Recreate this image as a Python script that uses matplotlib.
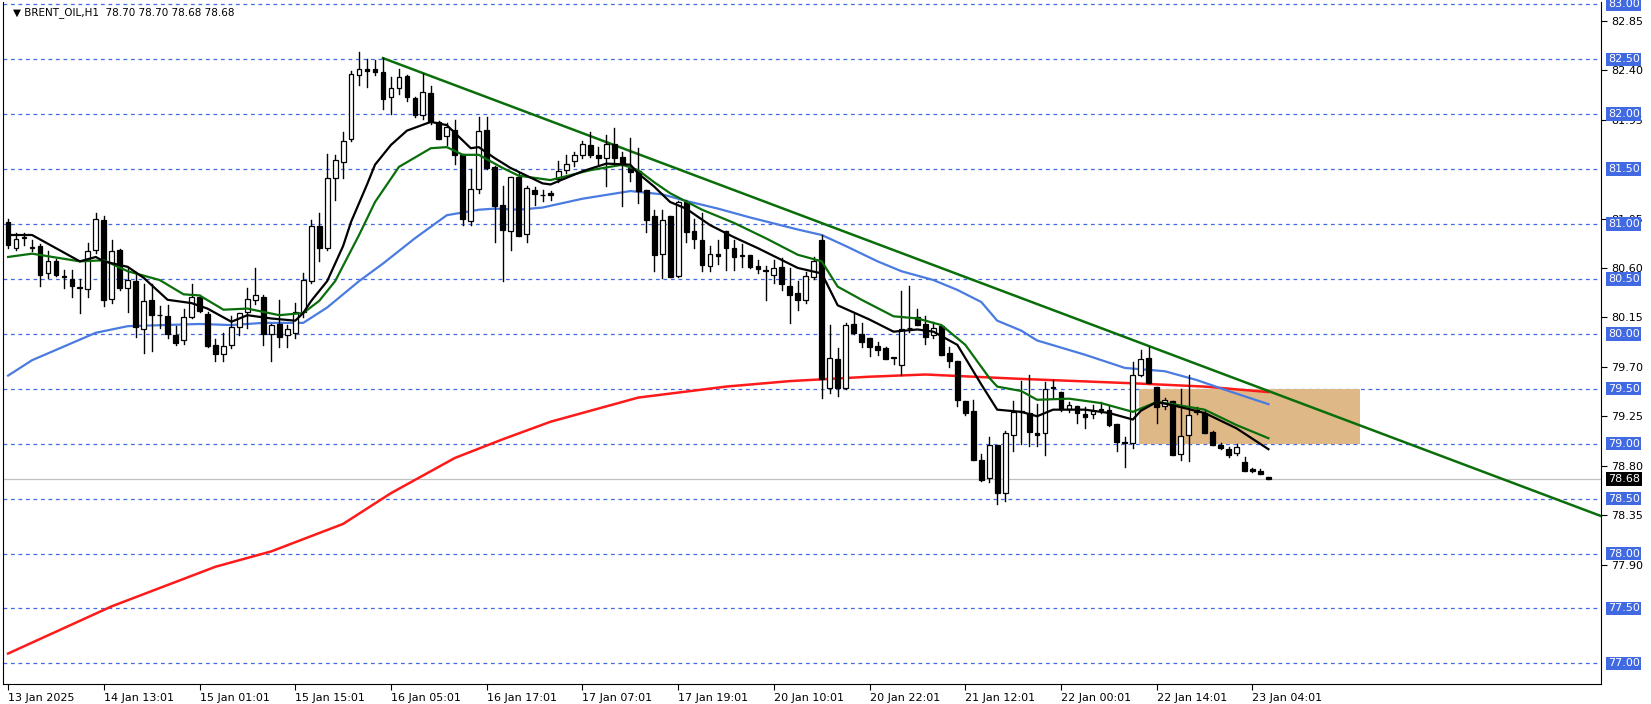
import matplotlib
matplotlib.use("Agg")
from matplotlib import pyplot as plt
from matplotlib.patches import Rectangle
import numpy as np

# hourly candles, index 0 = 13 Jan 2025
opens = [81.02, 80.78, 80.88, 80.79, 80.80, 80.55, 80.66, 80.52, 80.50, 80.42,
         80.41, 80.76, 81.04, 80.32, 80.76, 80.42, 80.48, 80.04, 80.31, 80.17,
         80.16, 79.99, 79.94, 80.15, 80.34, 80.18, 79.90, 79.82, 79.90, 80.06,
         80.20, 80.31, 80.34, 80.00, 80.09, 79.99, 80.01, 80.20, 80.48, 80.98,
         80.78, 81.42, 81.56, 81.77, 82.36, 82.41, 82.41, 82.38, 82.16, 82.24,
         82.35, 82.15, 81.99, 82.19, 81.93, 81.80, 81.86, 81.63, 81.03, 81.32,
         81.86, 81.52, 81.17, 80.94, 81.43, 80.91, 81.31, 81.26, 81.28, 81.41,
         81.49, 81.57, 81.63, 81.72, 81.63, 81.60, 81.73, 81.61, 81.51, 81.48,
         81.31, 81.07, 80.73, 81.07, 80.53, 81.20, 80.94, 80.85, 80.62, 80.73,
         80.94, 80.78, 80.71, 80.72, 80.62, 80.58, 80.54, 80.61, 80.44, 80.37,
         80.31, 80.52, 80.85, 79.51, 79.77, 79.51, 80.09, 80.00, 79.96, 79.89,
         79.87, 79.78, 79.72, 80.05, 80.15, 80.09, 79.99, 80.07, 79.83, 79.75,
         79.39, 79.30, 78.85, 78.69, 78.99, 78.55, 79.08, 79.29, 79.28, 79.10,
         79.10, 79.51, 79.47, 79.32, 79.34, 79.27, 79.27, 79.31, 79.31, 79.18,
         79.01, 79.01, 79.63, 79.78, 79.52, 79.34, 79.39, 78.91, 79.08, 79.29,
         79.28, 79.11, 78.99, 78.95, 78.92, 78.83, 78.77, 78.75, 78.70]
highs = [81.05, 80.92, 80.92, 80.85, 80.82, 80.75, 80.68, 80.58, 80.58, 80.50,
         80.83, 81.10, 81.07, 80.85, 80.77, 80.60, 80.56, 80.45, 80.45, 80.25,
         80.26, 80.07, 80.23, 80.45, 80.35, 80.20, 79.95, 80.01, 80.16, 80.19,
         80.42, 80.60, 80.35, 80.09, 80.31, 80.08, 80.28, 80.55, 81.04, 81.10,
         81.64, 81.63, 81.84, 82.39, 82.57, 82.50, 82.49, 82.51, 82.34, 82.41,
         82.36, 82.16, 82.37, 82.26, 81.94, 81.92, 81.95, 81.64, 81.50, 81.97,
         81.97, 81.53, 81.35, 81.43, 81.47, 81.35, 81.34, 81.31, 81.30, 81.57,
         81.63, 81.66, 81.76, 81.84, 81.70, 81.81, 81.87, 81.66, 81.78, 81.69,
         81.31, 81.13, 81.13, 81.07, 81.21, 81.22, 81.05, 81.10, 80.80, 80.85,
         80.94, 80.85, 80.82, 80.72, 80.67, 80.62, 80.67, 80.69, 80.60, 80.48,
         80.56, 80.70, 80.90, 80.08, 79.87, 80.10, 80.19, 80.10, 79.96, 79.93,
         79.88, 79.78, 80.39, 80.44, 80.23, 80.16, 80.11, 80.07, 79.88, 79.75,
         79.39, 79.40, 78.91, 79.06, 78.99, 79.12, 79.39, 79.57, 79.63, 79.36,
         79.56, 79.58, 79.47, 79.38, 79.34, 79.33, 79.35, 79.38, 79.34, 79.18,
         79.06, 79.74, 79.85, 79.88, 79.52, 79.42, 79.39, 79.50, 79.63, 79.33,
         79.31, 79.12, 79.01, 78.97, 79.00, 78.88, 78.78, 78.77, 78.70]
lows = [80.78, 80.76, 80.81, 80.75, 80.44, 80.51, 80.53, 80.42, 80.34, 80.19,
        80.34, 80.74, 80.25, 80.28, 80.40, 80.20, 79.97, 79.83, 79.84, 80.05,
        79.96, 79.90, 79.91, 80.14, 80.20, 79.88, 79.75, 79.75, 79.87, 79.99,
        80.05, 80.27, 79.90, 79.75, 79.88, 79.88, 79.96, 80.15, 80.46, 80.66,
        80.76, 81.22, 81.42, 81.76, 82.27, 82.25, 82.36, 82.05, 82.00, 82.18,
        82.12, 81.97, 81.96, 81.91, 81.77, 81.72, 81.55, 80.99, 80.99, 81.28,
        81.50, 80.84, 80.48, 80.76, 80.89, 80.84, 81.17, 81.21, 81.22, 81.38,
        81.46, 81.53, 81.60, 81.61, 81.54, 81.35, 81.55, 81.16, 81.39, 81.19,
        80.93, 80.57, 80.51, 80.52, 80.52, 80.84, 80.78, 80.57, 80.57, 80.64,
        80.58, 80.58, 80.61, 80.60, 80.55, 80.31, 80.46, 80.40, 80.10, 80.22,
        80.28, 80.50, 79.42, 79.46, 79.43, 79.50, 80.00, 79.88, 79.80, 79.81,
        79.77, 79.73, 79.63, 80.02, 80.08, 79.91, 79.96, 79.81, 79.70, 79.34,
        79.26, 78.85, 78.66, 78.65, 78.45, 78.48, 78.93, 79.00, 78.98, 78.98,
        78.90, 79.42, 79.30, 79.29, 79.19, 79.14, 79.23, 79.28, 79.16, 78.93,
        78.79, 78.96, 79.62, 79.55, 79.19, 79.32, 78.90, 78.85, 78.84, 79.27,
        79.10, 78.99, 78.95, 78.88, 78.90, 78.75, 78.74, 78.72, 78.68]
closes = [80.81, 80.86, 80.87, 80.78, 80.54, 80.66, 80.54, 80.52, 80.44, 80.42,
          80.75, 81.05, 80.31, 80.75, 80.42, 80.49, 80.06, 80.30, 80.17, 80.17,
          80.00, 79.92, 80.15, 80.34, 80.21, 79.89, 79.82, 79.89, 80.06, 80.19,
          80.32, 80.35, 80.00, 80.08, 79.97, 80.04, 80.20, 80.49, 80.98, 80.78,
          81.42, 81.58, 81.76, 82.37, 82.41, 82.39, 82.38, 82.14, 82.24, 82.34,
          82.16, 81.99, 82.20, 81.93, 81.77, 81.88, 81.63, 81.05, 81.32, 81.85,
          81.51, 81.16, 80.95, 81.43, 80.89, 81.33, 81.27, 81.26, 81.26, 81.48,
          81.55, 81.63, 81.73, 81.63, 81.60, 81.73, 81.60, 81.54, 81.47, 81.30,
          81.04, 80.72, 81.04, 80.52, 81.20, 80.93, 80.86, 80.63, 80.73, 80.71,
          80.78, 80.70, 80.71, 80.61, 80.59, 80.57, 80.60, 80.45, 80.35, 80.31,
          80.53, 80.66, 79.59, 79.78, 79.51, 80.08, 80.01, 79.93, 79.88, 79.85,
          79.77, 79.78, 80.04, 80.05, 80.08, 79.97, 80.05, 79.81, 79.75, 79.40,
          79.28, 78.85, 78.67, 78.99, 78.55, 79.10, 79.29, 79.29, 79.11, 79.08,
          79.50, 79.51, 79.32, 79.35, 79.28, 79.24, 79.30, 79.31, 79.17, 79.02,
          79.01, 79.63, 79.77, 79.55, 79.33, 79.40, 78.90, 79.07, 79.26, 79.31,
          79.10, 78.99, 78.96, 78.90, 78.97, 78.75, 78.75, 78.72, 78.68]

# moving averages (bar index, price)
fast_idx = [0, 3, 5, 9, 11, 12, 15, 17, 20, 23, 25, 28, 30, 33, 36, 37, 38, 40, 42, 43,
            45, 46, 48, 50, 53, 55, 58, 59, 61, 63, 67, 68, 72, 75, 78, 79, 81, 83, 85,
            88, 91, 94, 99, 102, 104, 108, 111, 114, 116, 119, 122, 124, 127, 129, 131,
            135, 138, 141, 142, 144, 146, 150, 154, 158]
fast_ma = [80.90, 80.90, 80.82, 80.66, 80.70, 80.66, 80.61, 80.51, 80.31, 80.28, 80.23,
           80.11, 80.17, 80.14, 80.12, 80.19, 80.30, 80.48, 80.80, 81.02, 81.36, 81.54,
           81.72, 81.85, 81.93, 81.90, 81.69, 81.70, 81.60, 81.51, 81.37, 81.36, 81.48,
           81.55, 81.54, 81.46, 81.34, 81.20, 81.14, 80.99, 80.88, 80.78, 80.60, 80.55,
           80.26, 80.13, 80.02, 80.04, 80.02, 79.90, 79.54, 79.31, 79.29, 79.25, 79.31,
           79.31, 79.28, 79.22, 79.30, 79.38, 79.35, 79.28, 79.14, 78.95]
mid_idx = [0, 3, 9, 12, 15, 19, 22, 24, 27, 30, 34, 37, 39, 41, 44, 46, 49, 53, 55, 57,
           59, 62, 64, 68, 73, 77, 79, 81, 83, 87, 91, 95, 99, 102, 104, 107, 111, 114,
           117, 120, 123, 124, 127, 129, 133, 137, 141, 144, 146, 150, 154, 158]
mid_ma = [80.70, 80.73, 80.66, 80.67, 80.57, 80.49, 80.36, 80.35, 80.22, 80.23, 80.17,
          80.19, 80.30, 80.48, 80.90, 81.20, 81.52, 81.69, 81.70, 81.63, 81.63, 81.51,
          81.44, 81.40, 81.49, 81.54, 81.49, 81.38, 81.28, 81.13, 81.01, 80.87, 80.72,
          80.66, 80.43, 80.31, 80.16, 80.14, 80.08, 79.90, 79.60, 79.52, 79.48, 79.40,
          79.41, 79.37, 79.29, 79.38, 79.36, 79.31, 79.17, 79.05]
slow_idx = [0, 3, 11, 15, 24, 28, 32, 37, 40, 44, 47, 51, 55, 59, 61, 64, 67, 72, 78,
            82, 85, 89, 93, 99, 102, 105, 109, 112, 116, 119, 122, 124, 127, 129, 135,
            140, 145, 149, 153, 158]
slow_ma = [79.62, 79.76, 80.01, 80.07, 80.09, 80.08, 80.10, 80.10, 80.24, 80.48, 80.64,
           80.87, 81.08, 81.13, 81.14, 81.13, 81.15, 81.23, 81.30, 81.27, 81.21, 81.14,
           81.06, 80.95, 80.90, 80.80, 80.66, 80.57, 80.49, 80.40, 80.29, 80.12, 80.03,
           79.94, 79.81, 79.69, 79.66, 79.58, 79.48, 79.36]
long_idx = [0, 13, 26, 33, 42, 48, 56, 62, 68, 79, 90, 98, 108, 115, 127, 141, 150, 158]
long_ma = [77.09, 77.52, 77.88, 78.02, 78.27, 78.55, 78.87, 79.04, 79.20, 79.42, 79.52,
           79.57, 79.61, 79.63, 79.59, 79.55, 79.52, 79.47]

trend_idx = [47, 199.75]
trend_px = [82.51, 78.34]
zone_idx = [141.8, 169.5]
zone_px = [79.00, 79.50]

xtick_labels = ["13 Jan 2025", "14 Jan 13:01", "15 Jan 01:01", "15 Jan 15:01",
                "16 Jan 05:01", "16 Jan 17:01", "17 Jan 07:01", "17 Jan 19:01",
                "20 Jan 10:01", "20 Jan 22:01", "21 Jan 12:01", "22 Jan 00:01",
                "22 Jan 14:01", "23 Jan 04:01"]
minor_prices = [82.85, 82.40, 81.95, 81.05, 80.60, 80.15, 79.70, 79.25, 78.80, 78.35,
                77.90]
level_prices = [83.00, 82.50, 82.00, 81.50, 81.00, 80.50, 80.00, 79.50, 79.00, 78.50,
                78.00, 77.50, 77.00]
last_price = 78.68

GRID_BLUE = "#4169E1"

fig = plt.figure(figsize=(16.51, 7.04), dpi=100)
ax = fig.add_axes([0.002, 0.028, 0.968, 0.969])
ax.set_xlim(-0.6, 199.75)
ax.set_ylim(76.81, 83.02)

for p in level_prices:
    ax.axhline(p, color=GRID_BLUE, lw=0.9, ls=(0, (3, 3)), zorder=1)
ax.axhline(last_price, color="#c0c0c0", lw=0.9, zorder=1)

ax.add_patch(Rectangle((zone_idx[0], zone_px[0]), zone_idx[1] - zone_idx[0],
                       zone_px[1] - zone_px[0], facecolor="#DEB887", edgecolor="none", zorder=2))

ax.plot(long_idx, long_ma, color="#ff1a1a", lw=1.8, zorder=3)
ax.plot(slow_idx, slow_ma, color="#4a7be0", lw=1.6, zorder=3)
ax.plot(trend_idx, trend_px, color="#0a6e0a", lw=1.8, zorder=3)

w = 0.6
for i in range(len(opens)):
    o, h, l, c = opens[i], highs[i], lows[i], closes[i]
    ax.plot([i, i], [l, h], color="black", lw=1, zorder=4)
    lo, hi = min(o, c), max(o, c)
    fc = "white" if c > o else "black"
    ax.add_patch(Rectangle((i - w / 2, lo), w, max(hi - lo, 0.006), facecolor=fc,
                           edgecolor="black", lw=0.9, zorder=5))

ax.plot(mid_idx, mid_ma, color="#0a6e0a", lw=1.6, zorder=6)
ax.plot(fast_idx, fast_ma, color="black", lw=1.6, zorder=6)

# x axis labels every 12 bars
xt = [12 * k for k in range(len(xtick_labels))]
ax.set_xticks(xt)
ax.set_xticklabels(xtick_labels, fontsize=8, ha="left")
ax.tick_params(axis="x", length=4, pad=2)

ax.yaxis.tick_right()
ax.set_yticks(minor_prices)
ax.set_yticklabels([f"{p:.2f}" for p in minor_prices], fontsize=8)
ax.tick_params(axis="y", length=4, pad=3)
for p in level_prices:
    ax.text(1.004, p, f"{p:.2f}", transform=ax.get_yaxis_transform(), fontsize=8,
            color="white", va="center", ha="left",
            bbox=dict(boxstyle="square,pad=0.15", fc=GRID_BLUE, ec="none"), zorder=10,
            clip_on=False)
ax.text(1.004, last_price, f"{last_price:.2f}", transform=ax.get_yaxis_transform(),
        fontsize=8, color="white", va="center", ha="left",
        bbox=dict(boxstyle="square,pad=0.15", fc="black", ec="none"), clip_on=False)

ax.spines["top"].set_visible(False)
ax.text(0.006, 0.993, "\u25BC BRENT_OIL,H1  78.70 78.70 78.68 78.68", transform=ax.transAxes,
        fontsize=7.5, va="top", ha="left")

fig.savefig("out.png", dpi=100)
